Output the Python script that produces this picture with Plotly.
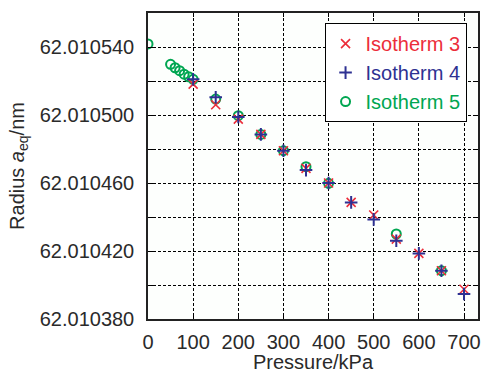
import plotly.graph_objects as go

# Equilibrium radius (nm) versus pressure (kPa) for three isotherms
p_iso3 = [100, 150, 200, 250, 300, 350, 400, 450, 500, 550, 600, 650, 700]
r_iso3 = [62.0105182, 62.0105060, 62.0104976, 62.0104886, 62.0104790, 62.0104686,
          62.0104600, 62.0104486, 62.0104412, 62.0104270, 62.0104186, 62.0104084,
          62.0103975]

p_iso4 = [100, 150, 200, 250, 300, 350, 400, 450, 500, 550, 600, 650, 700]
r_iso4 = [62.0105210, 62.0105104, 62.0104988, 62.0104886, 62.0104790, 62.0104676,
          62.0104600, 62.0104486, 62.0104386, 62.0104260, 62.0104186, 62.0104084,
          62.0103947]

p_iso5 = [0, 50, 60, 70, 80, 90, 100, 150, 200, 250, 300, 350, 400, 550, 650]
r_iso5 = [62.0105418, 62.0105298, 62.0105278, 62.0105261, 62.0105240, 62.0105225,
          62.0105210, 62.0105094, 62.0104996, 62.0104886, 62.0104790, 62.0104696,
          62.0104598, 62.0104300, 62.0104084]

y_ticks = [62.010380, 62.010420, 62.010460, 62.010500, 62.010540]
x_ticks = [0, 100, 200, 300, 400, 500, 600, 700]

RED = "#ec2d3a"
BLUE = "#2e3192"
GREEN = "#00a651"
FONT = "Liberation Sans, Arial, sans-serif"

fig = go.Figure()
fig.add_trace(go.Scatter(
    x=p_iso5, y=r_iso5, mode="markers", legendrank=3,
    name=f'<span style="color:{GREEN}">Isotherm 5</span>',
    marker=dict(symbol="circle-open", size=9, color=GREEN, line=dict(width=2, color=GREEN)),
))
fig.add_trace(go.Scatter(
    x=p_iso3, y=r_iso3, mode="markers", legendrank=1,
    name=f'<span style="color:{RED}">Isotherm 3</span>',
    marker=dict(symbol="x-thin", size=9, color=RED, line=dict(width=1.6, color=RED)),
))
fig.add_trace(go.Scatter(
    x=p_iso4, y=r_iso4, mode="markers", legendrank=2,
    name=f'<span style="color:{BLUE}">Isotherm 4</span>',
    marker=dict(symbol="cross-thin", size=9, color=BLUE, line=dict(width=2, color=BLUE)),
))

grid = dict(showgrid=True, gridcolor="black", gridwidth=1, griddash="3px,2px")

fig.update_layout(
    width=481, height=373,
    margin=dict(l=148, r=0, t=13, b=54),
    paper_bgcolor="white", plot_bgcolor="#fdfffd",
    font=dict(family=FONT, size=20, color="#2a2a2a"),
    showlegend=True,
    legend=dict(
        x=0.535, y=0.967, xanchor="left", yanchor="top",
        bgcolor="white", bordercolor="black", borderwidth=1,
        font=dict(family=FONT, size=20),
        tracegroupgap=0, itemwidth=30,
    ),
    xaxis=dict(
        range=[0, 731], tickvals=x_ticks, ticks="inside", ticklen=4,
        tickcolor="black", showline=True, linecolor="#222", linewidth=1.5,
        mirror="ticks", zeroline=False, ticklabelstandoff=4,
        ticklabeloverflow="allow",
        title=dict(text="Pressure/kPa", font=dict(size=20), standoff=6),
        **grid,
    ),
    yaxis=dict(
        range=[62.010380, 62.010560], tickvals=y_ticks, tickformat=".6f",
        ticks="inside", ticklen=5, tickcolor="black",
        showline=True, linecolor="#222", linewidth=1.5, mirror="ticks",
        zeroline=False, ticklabelstandoff=8,
        minor=dict(dtick=0.00002, tick0=62.010380, ticks="inside", ticklen=5,
                   tickcolor="black", showgrid=True, gridcolor="black",
                   gridwidth=1, griddash="3px,2px"),
        title=dict(text="Radius <i>a</i><sub>eq</sub>/nm", font=dict(size=20), standoff=10),
        **grid,
    ),
)

fig.write_html("out.html")
